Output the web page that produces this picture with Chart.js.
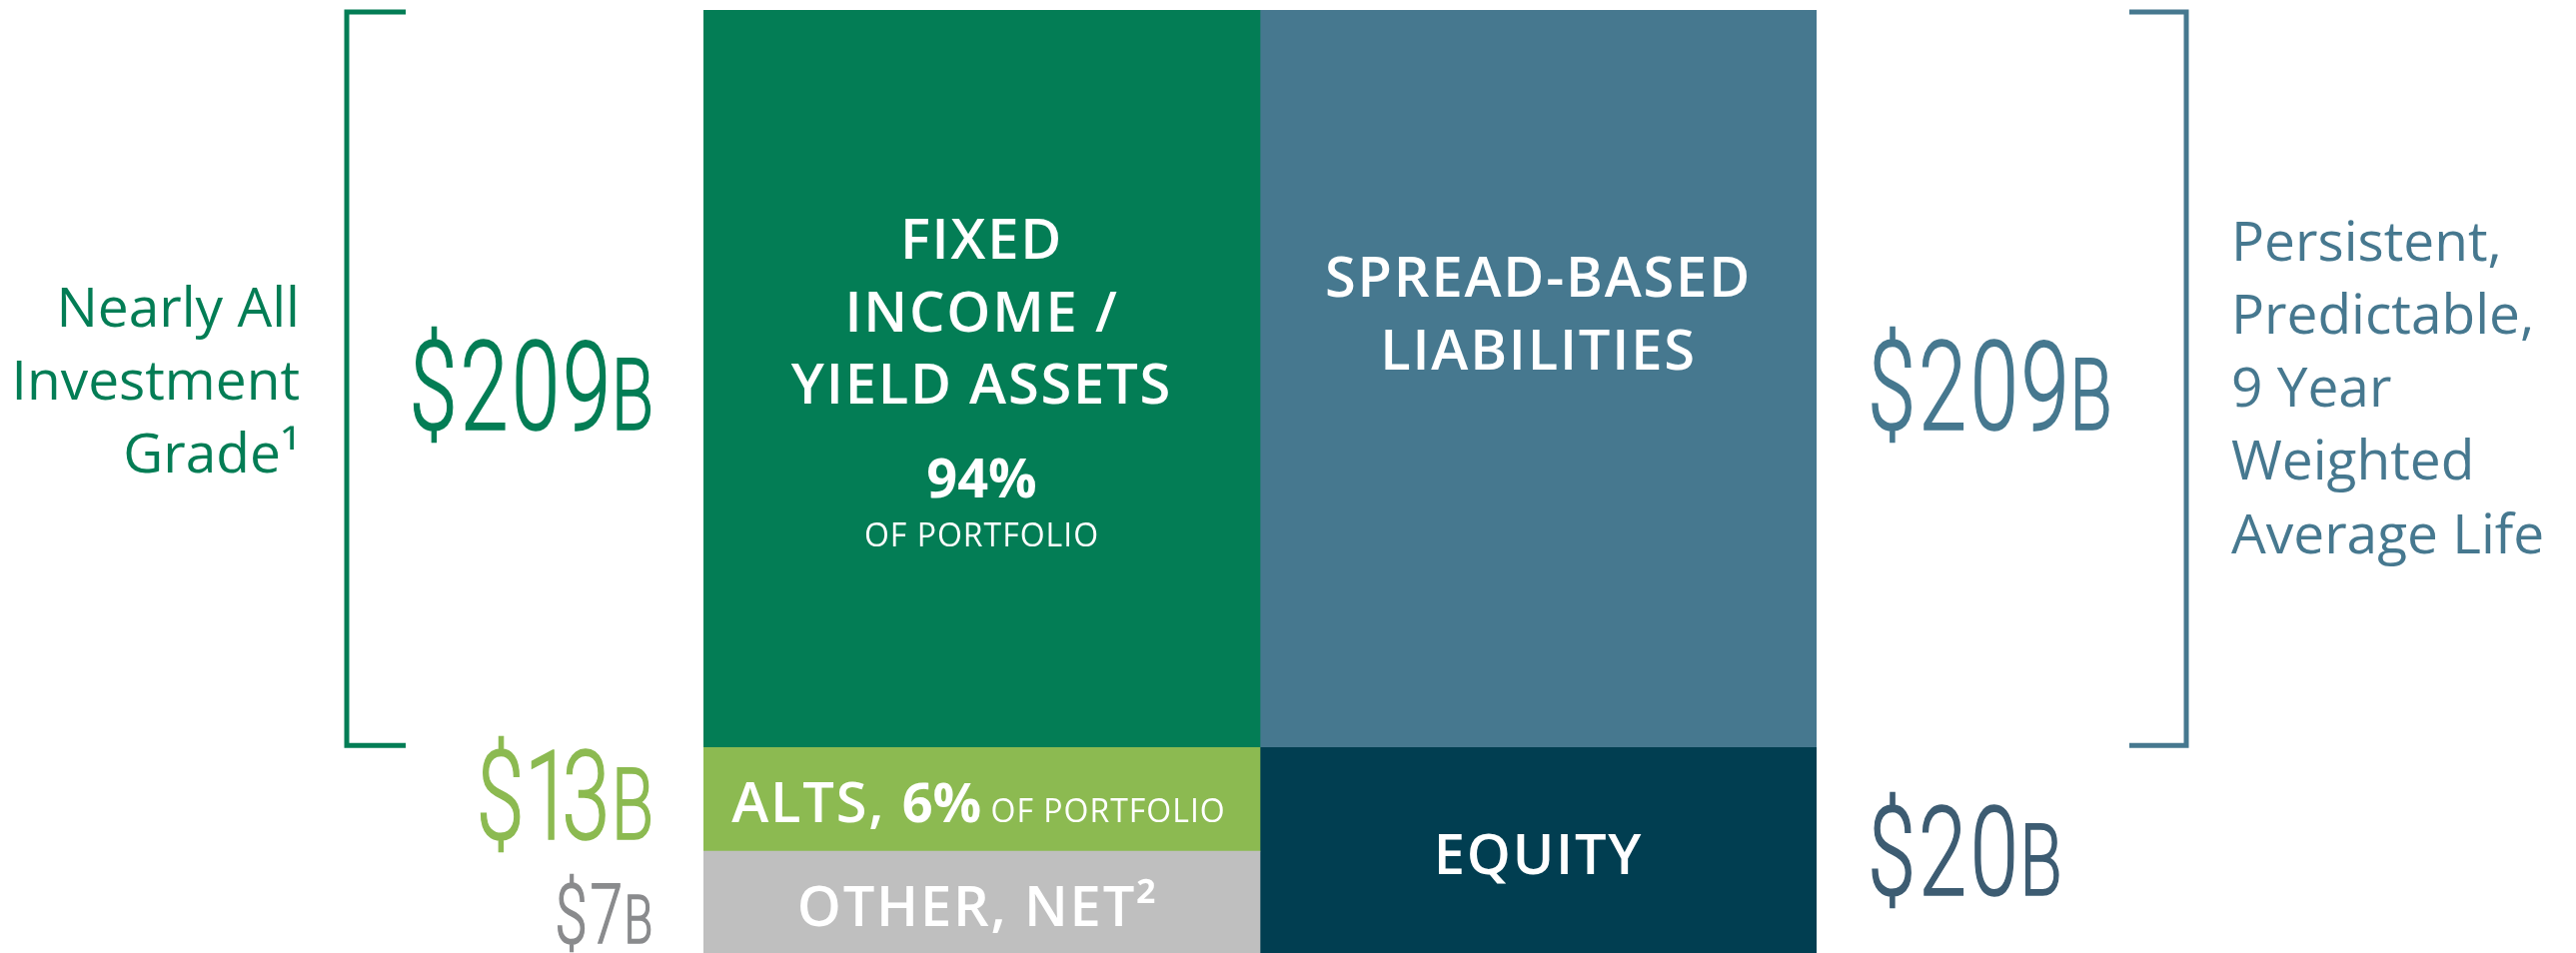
<!DOCTYPE html>
<html>
<head>
<meta charset="utf-8">
<title>Balance sheet</title>
<script src="https://cdn.jsdelivr.net/npm/chart.js@4.4.1/dist/chart.umd.min.js"></script>
<style>
  html, body { margin: 0; padding: 0; background: #fff; }
  #wrap { width: 2578px; height: 954px; }
</style>
</head>
<body>
<div id="wrap"><canvas id="balanceChart"></canvas></div>
<script>
// two columns: assets on the left, liabilities + equity on the right
const columns = ['Assets', 'Liabilities & Equity'];

// blocks, listed bottom-up within each column
const blockNames = ['Other, net', 'Alts', 'Fixed income / yield assets', 'Equity', 'Spread-based liabilities'];
const blockColumn = [0, 0, 0, 1, 1];
// $ billions as labelled
const blockValuesB = [7, 13, 209, 20, 209];
// share of the column height each block takes in the picture (schematic, not to scale)
const blockSharePct = [10.8, 11.0, 78.2, 21.8, 78.2];
// share of the investment portfolio
const portfolioPct = [null, 6, 94, null, null];

const bracketNotes = [
  ['Nearly All', 'Investment', 'Grade\u00B9'],
  ['Persistent,', 'Predictable,', '9 Year', 'Weighted', 'Average Life']
];

const palette = {
  'Other, net': '#BFBFBF',
  'Alts': '#8CBA51',
  'Fixed income / yield assets': '#037D55',
  'Equity': '#013E51',
  'Spread-based liabilities': '#46788F'
};
const amountColors = ['#8A8B8D', '#8CBA51', '#037D55', '#3D5C72', '#46788F'];

const datasets = blockNames.map((name, i) => ({
  label: name,
  data: columns.map((c, j) => (j === blockColumn[i] ? blockSharePct[i] : null)),
  backgroundColor: palette[name],
  borderWidth: 0,
  stack: 'sheet',
  barPercentage: 1,
  categoryPercentage: 1
}));

const TEXT_FONT = '"Open Sans", "Noto Sans", sans-serif';
const NUM_FONT = 'Roboto, "Liberation Sans", sans-serif';

// condensed "$209B" style amounts, set glyph by glyph so the digits are proportional
function drawAmount(ctx, valueB, x, align, centerY, size, color) {
  const squeeze = 0.7;
  const gap = size * 0.135;
  const glyphs = ('$' + valueB).split('').map(ch => ({ ch: ch, size: size }));
  glyphs.push({ ch: 'B', size: size * 0.8 });
  ctx.save();
  ctx.letterSpacing = '0px';
  let total = 0;
  glyphs.forEach((g, k) => {
    ctx.font = '300 ' + g.size + 'px ' + NUM_FONT;
    const m = ctx.measureText(g.ch);
    g.lead = m.actualBoundingBoxLeft;
    g.ink = m.actualBoundingBoxLeft + m.actualBoundingBoxRight;
    total += g.ink + (k ? gap : 0);
  });
  const startX = align === 'right' ? x - total * squeeze : x;
  const baseline = centerY + size * 0.355;
  ctx.translate(startX, baseline);
  ctx.scale(squeeze, 1);
  ctx.fillStyle = color;
  ctx.strokeStyle = color;
  ctx.lineWidth = 1.6;
  ctx.textAlign = 'left';
  ctx.textBaseline = 'alphabetic';
  let cur = 0;
  glyphs.forEach((g, k) => {
    if (k) cur += gap;
    ctx.font = '300 ' + g.size + 'px ' + NUM_FONT;
    ctx.fillText(g.ch, cur + g.lead, 0);
    ctx.strokeText(g.ch, cur + g.lead, 0);
    cur += g.ink;
  });
  ctx.restore();
}

// draws a run of differently styled pieces centred on x
function drawRuns(ctx, runs, cx, baseline) {
  let total = 0;
  runs.forEach(r => {
    ctx.font = r.font;
    ctx.letterSpacing = r.ls || '0px';
    r.w = ctx.measureText(r.text).width;
    total += r.w;
  });
  let x = cx - total / 2;
  ctx.textAlign = 'left';
  runs.forEach(r => {
    ctx.font = r.font;
    ctx.letterSpacing = r.ls || '0px';
    ctx.fillText(r.text, x, baseline + (r.dy || 0));
    x += r.w;
  });
}

function drawBracket(ctx, x, top, bottom, tickTo, color) {
  ctx.save();
  ctx.strokeStyle = color;
  ctx.lineWidth = 5;
  ctx.lineJoin = 'miter';
  ctx.beginPath();
  ctx.moveTo(tickTo, top + 2);
  ctx.lineTo(x, top + 2);
  ctx.lineTo(x, bottom - 2);
  ctx.lineTo(tickTo, bottom - 2);
  ctx.stroke();
  ctx.restore();
}

const sheetLabels = {
  id: 'sheetLabels',
  afterDatasetsDraw(chart) {
    const ctx = chart.ctx;
    const box = blockNames.map((n, i) => {
      const el = chart.getDatasetMeta(i).data[blockColumn[i]];
      const p = el.getProps(['x', 'y', 'base', 'width'], true);
      return { x: p.x, top: Math.min(p.y, p.base), bottom: Math.max(p.y, p.base), left: p.x - p.width / 2, right: p.x + p.width / 2 };
    });
    const mid = b => (b.top + b.bottom) / 2;
    const semi = '600 56px ' + TEXT_FONT;
    const bold = '700 54px ' + TEXT_FONT;
    const small = '400 32px ' + TEXT_FONT;
    const semiLS = '1.8px', smallLS = '1px';

    ctx.save();
    ctx.fillStyle = '#ffffff';
    ctx.textBaseline = 'alphabetic';

    // fixed income block
    const fi = box[2], fc = mid(fi);
    drawRuns(ctx, [{ text: 'FIXED', font: semi, ls: semiLS }], fi.x, fc - 120);
    drawRuns(ctx, [{ text: 'INCOME /', font: semi, ls: semiLS }], fi.x, fc - 47.5);
    drawRuns(ctx, [{ text: 'YIELD ASSETS', font: semi, ls: semiLS }], fi.x, fc + 25);
    drawRuns(ctx, [{ text: portfolioPct[2] + '%', font: bold }], fi.x, fc + 119);
    drawRuns(ctx, [{ text: 'OF PORTFOLIO', font: small, ls: smallLS }], fi.x, fc + 168);

    // alts
    const al = box[1];
    drawRuns(ctx, [
      { text: 'ALTS, ', font: semi, ls: semiLS },
      { text: portfolioPct[1] + '%', font: bold },
      { text: ' OF PORTFOLIO', font: small, ls: smallLS }
    ], al.x - 3, mid(al) + 23);

    // other, net
    const ot = box[0];
    drawRuns(ctx, [{ text: 'OTHER, NET\u00B2', font: semi, ls: semiLS }], ot.x - 4, mid(ot) + 24);

    // liabilities
    const li = box[4], lc = mid(li);
    drawRuns(ctx, [{ text: 'SPREAD-BASED', font: semi, ls: semiLS }], li.x, lc - 82);
    drawRuns(ctx, [{ text: 'LIABILITIES', font: semi, ls: semiLS }], li.x, lc - 9);

    // equity
    const eq = box[3];
    drawRuns(ctx, [{ text: 'EQUITY', font: semi, ls: semiLS }], eq.x, mid(eq) + 24);
    ctx.restore();

    // dollar amounts beside the columns
    const leftX = box[2].left - 53;
    const rightX = box[4].right + 56;
    drawAmount(ctx, blockValuesB[2], leftX, 'right', mid(box[2]) + 7, 124, amountColors[2]);
    drawAmount(ctx, blockValuesB[1], leftX, 'right', mid(box[1]) - 4, 124, amountColors[1]);
    drawAmount(ctx, blockValuesB[0], leftX, 'right', mid(box[0]) + 11, 84, amountColors[0]);
    drawAmount(ctx, blockValuesB[4], rightX, 'left', mid(box[4]) + 7, 124, amountColors[4]);
    drawAmount(ctx, blockValuesB[3], rightX, 'left', mid(box[3]) + 1, 124, amountColors[3]);

    // brackets around the big blocks
    drawBracket(ctx, box[2].left - 357, box[2].top, box[2].bottom, box[2].left - 298, palette['Fixed income / yield assets']);
    drawBracket(ctx, box[4].right + 370, box[4].top, box[4].bottom, box[4].right + 313, palette['Spread-based liabilities']);

    // notes outside the brackets
    ctx.save();
    ctx.letterSpacing = '0px';
    ctx.textBaseline = 'alphabetic';
    ctx.font = '400 55px ' + TEXT_FONT;
    ctx.fillStyle = palette['Fixed income / yield assets'];
    ctx.textAlign = 'right';
    const ln = bracketNotes[0];
    ln.forEach((t, k) => ctx.fillText(t, box[2].left - 404, mid(box[2]) + 21 + (k - 1) * 73));
    ctx.fillStyle = palette['Spread-based liabilities'];
    ctx.textAlign = 'left';
    const rn = bracketNotes[1];
    rn.forEach((t, k) => ctx.fillText(t, box[4].right + 415, mid(box[4]) + 28 + (k - 2) * 73.3));
    ctx.restore();
  }
};

new Chart(document.getElementById('balanceChart'), {
  type: 'bar',
  data: { labels: columns, datasets: datasets },
  options: {
    responsive: true,
    maintainAspectRatio: false,
    animation: false,
    layout: { padding: { left: 704, right: 760, top: 10, bottom: 0 } },
    plugins: { legend: { display: false }, tooltip: { enabled: false } },
    scales: {
      x: { stacked: true, display: false },
      y: { stacked: true, display: false, min: 0, max: 100 }
    }
  },
  plugins: [sheetLabels]
});
</script>
</body>
</html>
